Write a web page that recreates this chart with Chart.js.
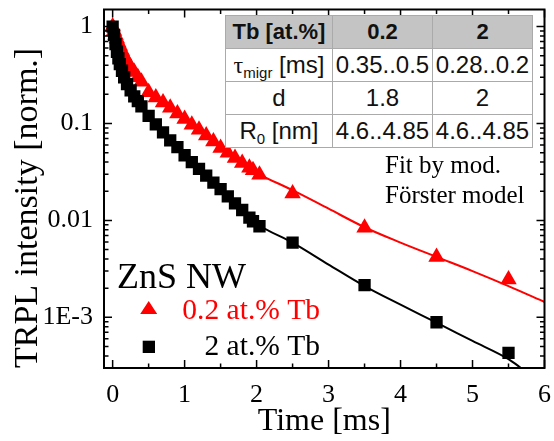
<!DOCTYPE html>
<html>
<head>
<meta charset="utf-8">
<script src="https://cdn.jsdelivr.net/npm/chart.js@4.4.1/dist/chart.umd.min.js"></script>
<style>
    body { margin: 0; background: #fff; }
    #wrap { position: relative; width: 554px; height: 441px; }
    #tabla {
        position: absolute; left: 225px; top: 15px;
        border-collapse: collapse; background: #fff;
        font-family: "Liberation Sans", Arial, sans-serif; font-size: 24px;
        border: 1.5px solid #555;
    }
    #tabla td {
        border: 1px solid #aaa; text-align: center; padding: 0;
        height: 32px; line-height: 32px; white-space: nowrap; color: #111;
    }
    #tabla tr.cab td { background: #c4c4c4; font-weight: bold; font-size: 22px; }
    #tabla sub { font-size: 15px; vertical-align: -5px; line-height: 0; }
</style>
</head>
<body>
<div id="wrap">
    <canvas id="canvaTrpl" width="554" height="441"></canvas>
    <table id="tabla">
        <tr class="cab"><td style="width:106px">Tb [at.%]</td><td style="width:99px">0.2</td><td style="width:99px">2</td></tr>
        <tr><td><span style="font-family:'Liberation Serif',serif">&tau;</span><sub>migr</sub> [ms]</td><td>0.35..0.5</td><td>0.28..0.2</td></tr>
        <tr><td>d</td><td>1.8</td><td>2</td></tr>
        <tr><td>R<sub>0</sub> [nm]</td><td>4.6..4.85</td><td>4.6..4.85</td></tr>
    </table>
</div>
<script>
// datos medidos, 0.2 at.% Tb (triangulos rojos)
const tiemposRojo = [0, 0.02, 0.04, 0.06, 0.08, 0.1, 0.13, 0.16, 0.2, 0.25, 0.3, 0.35, 0.4, 0.5, 0.6, 0.7, 0.8, 0.9, 1.0, 1.1, 1.2, 1.3, 1.4, 1.5, 1.6, 1.7, 1.8, 1.9, 1.95, 2.04, 2.5, 3.5, 4.5, 5.5];
const intensidadRojo = [1.0, 0.9, 0.82, 0.75, 0.68, 0.63, 0.56, 0.5, 0.44, 0.38, 0.34, 0.3, 0.27, 0.21, 0.185, 0.165, 0.145, 0.127, 0.111, 0.097, 0.086, 0.075, 0.065, 0.056, 0.05, 0.044, 0.039, 0.035, 0.033, 0.0295, 0.019, 0.0084, 0.0042, 0.00245];

// datos medidos, 2 at.% Tb (cuadrados negros)
const tiemposNegro = [0, 0.02, 0.04, 0.06, 0.08, 0.1, 0.13, 0.16, 0.2, 0.25, 0.3, 0.35, 0.4, 0.5, 0.6, 0.7, 0.8, 0.9, 1.0, 1.1, 1.2, 1.3, 1.4, 1.5, 1.6, 1.7, 1.8, 1.9, 1.95, 2.04, 2.5, 3.5, 4.5, 5.5];
const intensidadNegro = [1.0, 0.82, 0.66, 0.55, 0.47, 0.41, 0.35, 0.3, 0.255, 0.22, 0.19, 0.17, 0.15, 0.12, 0.098, 0.081, 0.067, 0.057, 0.047, 0.04, 0.034, 0.029, 0.0245, 0.021, 0.0177, 0.015, 0.0128, 0.0107, 0.0098, 0.0087, 0.0059, 0.00215, 0.00089, 0.00043];

// curvas de ajuste (modelo de Forster modificado)
const tiemposAjusteRojo = [1.8, 2.0, 2.5, 3.0, 3.5, 4.0, 4.5, 5.0, 5.5, 6.0];
const ajusteRojo = [0.039, 0.031, 0.0205, 0.0132, 0.0085, 0.0059, 0.0042, 0.003, 0.0021, 0.00144];
const tiemposAjusteNegro = [1.8, 2.0, 2.5, 3.0, 3.5, 4.0, 4.5, 5.0, 5.5, 5.7];
const ajusteNegro = [0.0128, 0.0093, 0.0059, 0.0035, 0.0021, 0.00135, 0.00088, 0.00057, 0.00037, 0.00029];

const ticksX = [0, 1, 2, 3, 4, 5, 6];
const ticksMenoresX = [0.5, 1.5, 2.5, 3.5, 4.5, 5.5];
const ticksY = [0.001, 0.01, 0.1, 1];
const etiquetasY = ['1E-3', '0.01', '0.1', '1'];

const serif = "'Liberation Serif', 'Times New Roman', serif";

function aPuntos(xs, ys) {
    return xs.map((x, i) => ({ x: x, y: ys[i] }));
}

// ticks hacia dentro en los cuatro lados y marco
const ticksHaciaDentro = {
    id: 'ticksHaciaDentro',
    afterDatasetsDraw(chart) {
        const { ctx, chartArea: a, scales: { x, y } } = chart;
        ctx.save();
        ctx.strokeStyle = '#000';
        ctx.lineWidth = 1.5;
        ctx.beginPath();
        const marcaX = (v, largo) => {
            const px = x.getPixelForValue(v);
            ctx.moveTo(px, a.bottom); ctx.lineTo(px, a.bottom - largo);
            ctx.moveTo(px, a.top); ctx.lineTo(px, a.top + largo);
        };
        ticksX.forEach(v => marcaX(v, 8));
        ticksMenoresX.forEach(v => marcaX(v, 4.5));
        for (let e = -4; e <= 0; e++) {
            for (let m = 1; m <= 9; m++) {
                const v = m * Math.pow(10, e);
                if (v < y.min || v > y.max) continue;
                const py = y.getPixelForValue(v);
                const largo = m === 1 ? 8 : 4.5;
                ctx.moveTo(a.left, py); ctx.lineTo(a.left + largo, py);
                ctx.moveTo(a.right, py); ctx.lineTo(a.right - largo, py);
            }
        }
        ctx.stroke();
        ctx.lineWidth = 2;
        ctx.strokeRect(a.left, a.top, a.width, a.height);
        ctx.restore();
    }
};

// leyenda y textos dentro del grafico
const textos = {
    id: 'textos',
    afterDraw(chart) {
        const ctx = chart.ctx;
        ctx.save();
        ctx.fillStyle = '#000';
        ctx.textBaseline = 'alphabetic';
        ctx.font = '36px ' + serif;
        ctx.textAlign = 'left';
        ctx.fillText('ZnS NW', 117, 288);

        ctx.font = '25px ' + serif;
        ctx.fillText('Fit by mod.', 385, 173);
        ctx.fillText('F\u00f6rster model', 385, 203);

        // triangulo rojo
        ctx.fillStyle = '#ff0000';
        ctx.beginPath();
        ctx.moveTo(148.7, 301);
        ctx.lineTo(157.2, 314);
        ctx.lineTo(140.2, 314);
        ctx.closePath();
        ctx.fill();
        ctx.font = '29.5px ' + serif;
        ctx.textAlign = 'right';
        ctx.fillText('0.2 at.% Tb', 320, 319);

        // cuadrado negro
        ctx.fillStyle = '#000';
        ctx.fillRect(142.7, 340.7, 12.3, 12.3);
        ctx.fillText('2 at.% Tb', 320, 355);
        ctx.restore();
    }
};

new Chart(document.getElementById('canvaTrpl'), {
    type: 'scatter',
    plugins: [ticksHaciaDentro, textos],
    data: {
        datasets: [
            {
                label: '2 at.% Tb',
                data: aPuntos(tiemposNegro, intensidadNegro),
                pointStyle: 'rect',
                pointRadius: 8.7,
                backgroundColor: '#000',
                borderColor: '#000',
                borderWidth: 0,
                order: 0
            }, {
                label: '0.2 at.% Tb',
                data: aPuntos(tiemposRojo, intensidadRojo),
                pointStyle: 'triangle',
                pointRadius: 9.5,
                backgroundColor: '#ff0000',
                borderColor: '#ff0000',
                borderWidth: 0,
                order: 1
            }, {
                label: 'ajuste 0.2',
                data: aPuntos(tiemposAjusteRojo, ajusteRojo),
                showLine: true,
                pointRadius: 0,
                borderColor: '#ff0000',
                borderWidth: 2,
                cubicInterpolationMode: 'monotone',
                order: 2
            }, {
                label: 'ajuste 2',
                data: aPuntos(tiemposAjusteNegro, ajusteNegro),
                showLine: true,
                pointRadius: 0,
                borderColor: '#000',
                borderWidth: 2,
                cubicInterpolationMode: 'monotone',
                order: 2
            }
        ]
    },
    options: {
        responsive: false,
        animation: false,
        layout: { padding: { left: 0, right: 8, top: 4, bottom: 0 } },
        plugins: {
            legend: { display: false },
            tooltip: { enabled: false }
        },
        scales: {
            x: {
                type: 'linear',
                min: -0.12,
                max: 6,
                grid: { display: false, drawTicks: false },
                border: { display: false },
                afterBuildTicks: (eje) => { eje.ticks = ticksX.map(v => ({ value: v })); },
                afterFit: (eje) => {
                    eje.height = 73;
                    eje.paddingLeft = 0;
                    eje.paddingRight = 0;
                },
                ticks: {
                    color: '#000',
                    padding: 12,
                    maxRotation: 0,
                    font: { family: serif, size: 26 },
                    callback: (v) => String(v)
                },
                title: {
                    display: true,
                    text: 'Time [ms]',
                    color: '#000',
                    font: { family: serif, size: 32, lineHeight: 1 },
                    padding: { top: 0, bottom: 3 }
                }
            },
            y: {
                type: 'logarithmic',
                min: 3e-4,
                max: 1.5,
                grid: { display: false, drawTicks: false },
                border: { display: false },
                afterBuildTicks: (eje) => { eje.ticks = ticksY.map(v => ({ value: v })); },
                afterFit: (eje) => {
                    eje.width = 104;
                    eje.paddingTop = 0;
                    eje.paddingBottom = 0;
                },
                ticks: {
                    color: '#000',
                    padding: 11,
                    font: { family: serif, size: 26 },
                    callback: (v) => {
                        const i = ticksY.findIndex(t => Math.abs(t - v) / t < 1e-6);
                        return i >= 0 ? etiquetasY[i] : '';
                    }
                },
                title: {
                    display: true,
                    text: 'TRPL intensity [norm.]',
                    align: 'start',
                    color: '#000',
                    font: { family: serif, size: 34, lineHeight: 1 },
                    padding: { top: 11, bottom: 0 }
                }
            }
        }
    }
});
</script>
</body>
</html>
